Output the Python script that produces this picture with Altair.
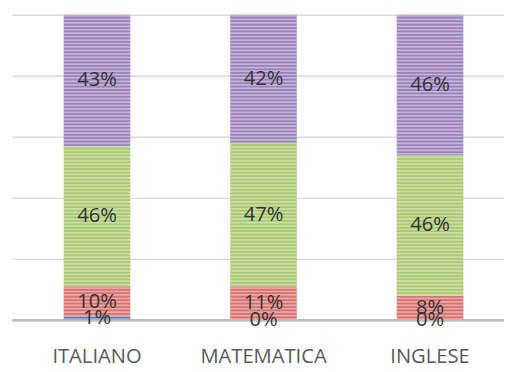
import altair as alt
import pandas as pd

categories = ["ITALIANO", "MATEMATICA", "INGLESE"]
series = ["Blu", "Rosso", "Verde", "Viola"]
values = {
    "Blu": [1, 0, 0],
    "Rosso": [10, 11, 8],
    "Verde": [46, 47, 46],
    "Viola": [43, 42, 46],
}
colors = ["#4f81bd", "#d9716e", "#a9c96e", "#9b82bf"]

rows = []
for si, s in enumerate(series):
    for ci, c in enumerate(categories):
        rows.append({"cat": c, "serie": s, "ord": si, "val": values[s][ci]})
df = pd.DataFrame(rows)

xscale = alt.Scale(domain=categories, paddingInner=0.6, paddingOuter=0.2775, align=0.56)
yscale = alt.Scale(domain=[0, 100], nice=False)

base = alt.Chart(df)

bars = base.mark_bar().encode(
    x=alt.X("cat:N", scale=xscale, sort=categories,
            axis=alt.Axis(title=None, labelAngle=0, ticks=False, domainColor="#bfbfbf",
                          domainWidth=3, labelFont="Open Sans", labelFontSize=20.5,
                          labelColor="#595959", labelPadding=27)),
    y=alt.Y("sum(val):Q", scale=yscale, stack="zero",
            axis=alt.Axis(title=None, labels=False, ticks=False, domain=False,
                          values=[0, 20, 40, 60, 80, 100], gridColor="#d9d9d9", gridWidth=1.5)),
    color=alt.Color("serie:N", scale=alt.Scale(domain=series, range=colors), legend=None),
    order=alt.Order("ord:Q"),
)

stripes = alt.Chart(pd.DataFrame({"cat": categories, "lo": [0, 0, 0], "hi": [100, 100, 100]})).mark_rule(
    strokeWidth=68, strokeDash=[1.7, 1.8], color="white", opacity=0.4
).encode(
    x=alt.X("cat:N", scale=xscale, sort=categories),
    y=alt.Y("lo:Q", scale=yscale),
    y2="hi:Q",
)

labels = base.transform_stack(
    stack="val", groupby=["cat"], as_=["v0", "v1"], sort=[alt.SortField("ord")]
).transform_calculate(
    mid="(datum.v0 + datum.v1) / 2", txt="datum.val + '%'"
).mark_text(font="Open Sans", fontSize=20.5, color="#333333").encode(
    x=alt.X("cat:N", scale=xscale, sort=categories),
    y=alt.Y("mid:Q", scale=yscale),
    text="txt:N",
)

chart = alt.layer(bars, stripes, labels).properties(
    width=500, height=310,
    autosize=alt.AutoSizeParams(type="none"),
    padding={"left": 4, "top": 4, "right": 0, "bottom": 50},
).configure_view(stroke=None)

chart.save("out.html", embed_options={"renderer": "svg", "actions": False})
